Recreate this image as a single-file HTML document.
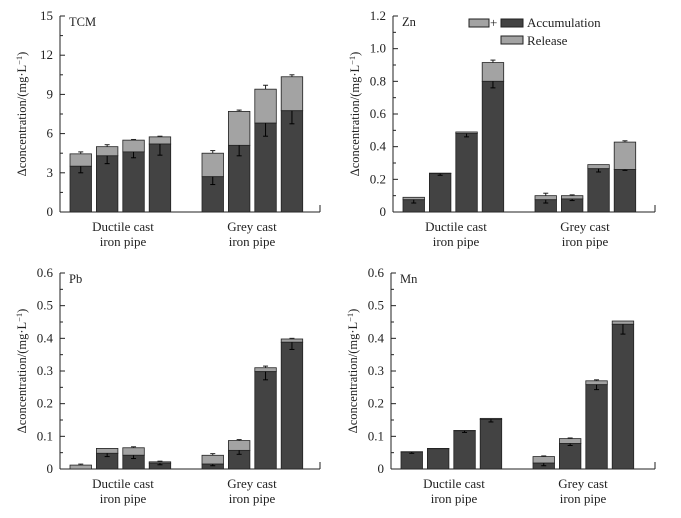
<!DOCTYPE html>
<html><head><meta charset="utf-8"><style>
body{margin:0;background:#fff;}
svg{display:block;}
svg text{font-family:"Liberation Serif","Times New Roman",Times,serif;}
</style></head><body>
<svg id="c" width="681" height="518" viewBox="0 0 681 518" font-family="Liberation Serif, Times New Roman, serif"></svg>
<script>
const categories=["Ductile cast iron pipe","Grey cast iron pipe"];
const tcmAcc=[3.5,4.3,4.6,5.2,2.7,5.1,6.8,7.75];
const tcmTot=[4.45,5.0,5.5,5.75,4.5,7.7,9.4,10.35];
const tcmErrA=[0.5,0.6,0.45,0.85,0.6,0.8,1.0,1.0];
const tcmErrT=[0.15,0.15,0.05,0.05,0.2,0.1,0.3,0.15];
const znAcc=[0.075,0.235,0.48,0.8,0.075,0.08,0.265,0.26];
const znTot=[0.09,0.238,0.49,0.915,0.1,0.1,0.29,0.428];
const znErrA=[0.02,0.01,0.02,0.04,0.02,0.01,0.02,0.005];
const znErrT=[0,0,0,0.015,0.015,0.005,0,0.008];
const pbAcc=[0,0.048,0.042,0.018,0.015,0.057,0.298,0.388];
const pbTot=[0.012,0.063,0.065,0.022,0.042,0.087,0.31,0.398];
const pbErrA=[0,0.01,0.01,0.005,0.005,0.012,0.025,0.022];
const pbErrT=[0.003,0,0.003,0.002,0.005,0.003,0.005,0.002];
const mnAcc=[0.052,0.062,0.117,0.152,0.018,0.078,0.258,0.443];
const mnTot=[0.053,0.063,0.118,0.155,0.038,0.093,0.27,0.453];
const mnErrA=[0.004,0,0.005,0.008,0.008,0.006,0.015,0.03];
const mnErrT=[0,0,0,0,0.002,0.002,0.003,0];
const tcmTicks=["0","3","6","9","12","15"];
const znTicks=["0","0.2","0.4","0.6","0.8","1.0","1.2"];
const mTicks=["0","0.1","0.2","0.3","0.4","0.5","0.6"];

const svg=document.getElementById('c');
const NS="http://www.w3.org/2000/svg";
function mk(tag,at,parent,txt){const e=document.createElementNS(NS,tag);for(const k in at)e.setAttribute(k,at[k]);if(txt!==undefined)e.textContent=txt;(parent||svg).appendChild(e);return e;}

function panel(name,title,ax0,xEnd,y0,yTop,max,ticks,minorStep,acc,tot,errA,errT){
  const g=mk('g',{});
  
  
  const ys=v=>y0-(v/max)*(y0-yTop);
  const ya=mk('line',{x1:ax0,y1:yTop,x2:ax0,y2:y0,stroke:'#222','stroke-width':1},g);
  
  const xa=mk('line',{x1:ax0,y1:y0,x2:xEnd,y2:y0,stroke:'#222','stroke-width':1},g);
  
  mk('line',{x1:xEnd,y1:y0,x2:xEnd,y2:y0-7,stroke:'#222'},g);
  const step=max/(ticks.length-1);
  ticks.forEach((t,i)=>{const y=ys(i*step);
    mk('line',{x1:ax0,y1:y,x2:ax0+5,y2:y,stroke:'#222'},g);
    const tl=mk('text',{x:ax0-7,y:y+4,'text-anchor':'end','font-size':13,fill:'#222'},g,t);
    
  });
  for(let v=minorStep;v<max;v+=step){mk('line',{x1:ax0,y1:ys(v),x2:ax0+3,y2:ys(v),stroke:'#222'},g);}
  const tt=mk('text',{x:ax0+9,y:yTop+10,'font-size':12.5,fill:'#222'},g,title);
  
  const yl=mk('text',{transform:`translate(${ax0-34},${(y0+yTop)/2}) rotate(-90)`,'text-anchor':'middle','font-size':12.5,fill:'#222'},g,'Δconcentration/(mg·L');
  mk('tspan',{dy:-4,'font-size':8.5},yl,'−1');
  mk('tspan',{dy:4},yl,')');
  
  const bw=21.5,gap=26.4,grpStart=[ax0+10,ax0+142];
  acc.forEach((a,i)=>{
    const x=grpStart[Math.floor(i/4)]+(i%4)*gap;
    const r1=mk('rect',{x:x,y:ys(tot[i]),width:bw,height:ys(a)-ys(tot[i]),fill:'#a3a3a3',stroke:'#222','stroke-width':0.8},g);
    
    const r2=mk('rect',{x:x,y:ys(a),width:bw,height:y0-ys(a),fill:'#434343',stroke:'#222','stroke-width':0.8},g);
    
    const cx=x+bw/2;
    if(errA[i]>0){mk('line',{x1:cx,y1:ys(a),x2:cx,y2:ys(a-errA[i]),stroke:'#000'},g);
      mk('line',{x1:cx-2.5,y1:ys(a-errA[i]),x2:cx+2.5,y2:ys(a-errA[i]),stroke:'#000'},g);}
    if(errT[i]>0){mk('line',{x1:cx,y1:ys(tot[i]),x2:cx,y2:ys(tot[i]+errT[i]),stroke:'#222'},g);
      mk('line',{x1:cx-2.5,y1:ys(tot[i]+errT[i]),x2:cx+2.5,y2:ys(tot[i]+errT[i]),stroke:'#222'},g);}
  });
  [[ax0+63,'Ductile cast'],[ax0+192,'Grey cast']].forEach((p,k)=>{
    const c=mk('text',{x:p[0],y:y0+19,'text-anchor':'middle','font-size':13,fill:'#222'},g,p[1]);
    
    mk('text',{x:p[0],y:y0+34,'text-anchor':'middle','font-size':13,fill:'#222'},g,'iron pipe');
  });
}
panel('tcm','TCM',60,320,212,16,15,tcmTicks,1.5,tcmAcc,tcmTot,tcmErrA,tcmErrT);
panel('zn','Zn',393,655,212,16,1.2,znTicks,0.1,znAcc,znTot,znErrA,znErrT);
panel('pb','Pb',60,320,469,273,0.6,mTicks,0.05,pbAcc,pbTot,pbErrA,pbErrT);
panel('mn','Mn',391,655,469,273,0.6,mTicks,0.05,mnAcc,mnTot,mnErrA,mnErrT);
const lg=mk('g',{});

mk('rect',{x:469,y:19,width:20,height:8,fill:'#a3a3a3',stroke:'#222'},lg);
mk('text',{x:490,y:27,'font-size':13,fill:'#222'},lg,'+');
mk('rect',{x:501,y:19,width:22,height:8,fill:'#434343',stroke:'#222'},lg);
const l1=mk('text',{x:527,y:27,'font-size':13,fill:'#222'},lg,'Accumulation');

mk('rect',{x:501,y:36,width:22,height:8,fill:'#a3a3a3',stroke:'#222'},lg);
const l2=mk('text',{x:527,y:45,'font-size':13,fill:'#222'},lg,'Release');

</script>
</body></html>
